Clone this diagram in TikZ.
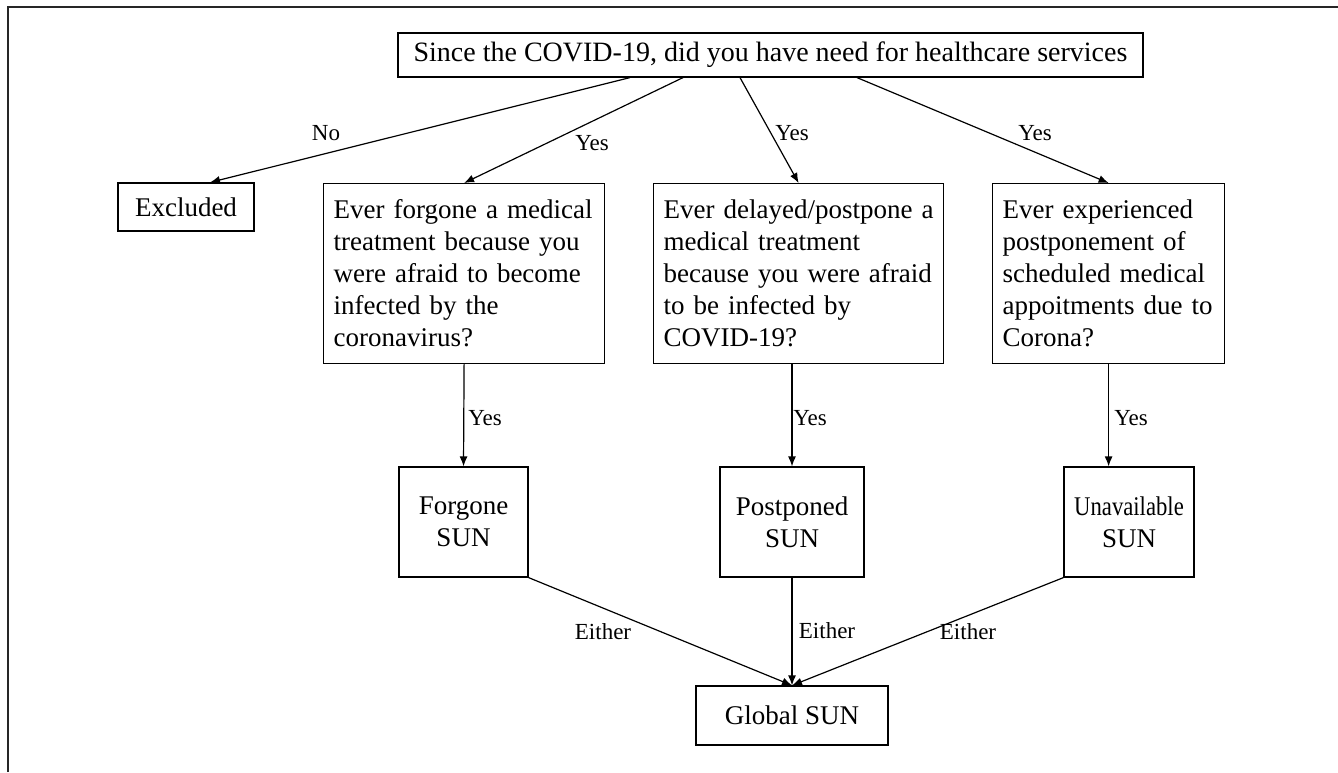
\documentclass[tikz,border=0pt]{standalone}
\usepackage{fontspec}
\usepackage{graphicx}
\setmainfont{Liberation Serif}
\usetikzlibrary{arrows.meta}
\begin{document}
\begin{tikzpicture}[x=1pt,y=-1pt,
  box/.style={draw, line width=1.2pt, font=\fontsize{27}{32}\selectfont, inner sep=0pt, align=center},
  qbox/.style={draw, line width=1.2pt, font=\fontsize{27}{32}\selectfont, inner xsep=10pt, inner ysep=0pt, align=left, minimum height=180pt, anchor=north west},
  arr/.style={line width=1.2pt, -{Latex[length=10pt,width=8pt]}},
  lbl/.style={font=\fontsize{23}{27}\selectfont, inner sep=0pt}]
\useasboundingbox (0,0) rectangle (1338,772);
\draw[line width=2pt, black!85] (8,772) -- (8,7) -- (1338,7);

\node[box, minimum width=745pt, minimum height=44pt, font=\fontsize{28}{32}\selectfont] (top) at (770.5,55) {Since the COVID-19, did you have need for healthcare services};
\node[box, minimum width=136pt, minimum height=48pt] (excl) at (186,207) {Excluded};
\node[qbox, text width=261pt] (q1) at (323,183) {Ever forgone a medical\\ treatment because you\\ were afraid to become\\ infected by the\\ coronavirus?};
\node[qbox, text width=270pt] (q2) at (653,183) {Ever delayed/postpone a\\ medical treatment\\ because you were afraid\\ to be infected by\\ COVID-19?};
\node[qbox, text width=212pt] (q3) at (992,183) {Ever experienced\\ postponement of\\ scheduled medical\\ appoitments due to\\ Corona?};

\node[box, minimum width=129pt, minimum height=110pt] (forg) at (463.5,522) {Forgone\\SUN};
\node[box, minimum width=144pt, minimum height=110pt] (post) at (792,522) {Postponed\\SUN};
\node[box, minimum width=130pt, minimum height=110pt] (unav) at (1129,522) {\scalebox{0.84}[1]{Unavailable}\\SUN};
\node[box, minimum width=192pt, minimum height=59pt] (glob) at (792,715.5) {Global SUN};

\node[lbl] (lno) at (326,133) {No};
\node[lbl] (ly1) at (592,143) {Yes};
\node[lbl] (ly2) at (792,133) {Yes};
\node[lbl] (ly3) at (1035,133) {Yes};
\node[lbl] (ly4) at (485,418) {Yes};
\node[lbl] (ly5) at (810,418) {Yes};
\node[lbl] (ly6) at (1131,418) {Yes};
\node[lbl] (le1) at (603,632) {Either};
\node[lbl] (le2) at (827,631) {Either};
\node[lbl] (le3) at (968,632) {Either};

\draw[arr] ([xshift=-140.5pt]top.south) -- ([xshift=24pt]excl.north);
\draw[arr] ([xshift=-87.5pt]top.south) -- (q1.north);
\draw[arr] ([xshift=-30.5pt]top.south) -- (q2.north);
\draw[arr] ([xshift=86.5pt]top.south) -- (q3.north);
\draw[arr] (q1.south) -- (forg.north);
\draw[arr] (q2.south -| post.north) -- (post.north);
\draw[arr] (q3.south) -- (q3.south |- unav.north);
\draw[arr] (forg.south east) -- (glob.north);
\draw[arr] (post.south) -- (glob.north);
\draw[arr] (unav.south west) -- (glob.north);
\end{tikzpicture}
\end{document}
